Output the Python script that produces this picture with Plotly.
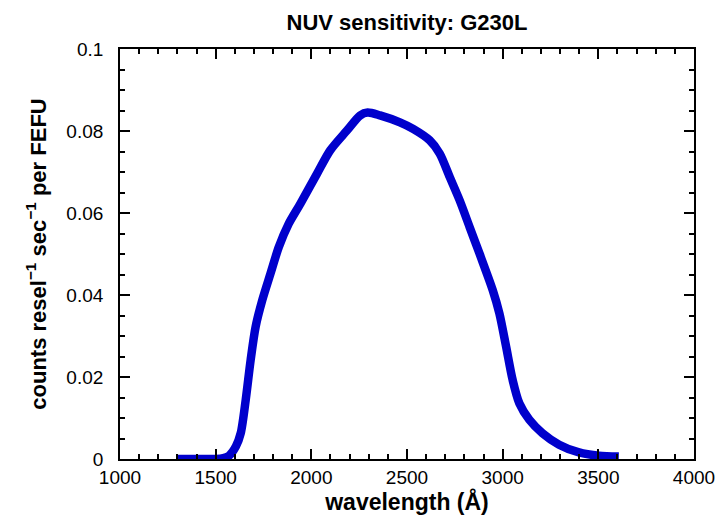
import plotly.graph_objects as go

wavelength = [1293, 1400, 1500, 1540, 1570, 1606, 1631, 1657, 1683, 1709, 1744, 1787,
              1830, 1882, 1943, 2030, 2099, 2186, 2255, 2294, 2359, 2463, 2532, 2619,
              2671, 2723, 2775, 2827, 2879, 2948, 2983, 3018, 3052, 3087, 3139, 3208,
              3295, 3399, 3503, 3607]
sensitivity = [0.0, 0.0, 0.0, 0.0002, 0.0008, 0.0031, 0.0063, 0.0144, 0.0242, 0.0323,
               0.0388, 0.0453, 0.0517, 0.0574, 0.0623, 0.0696, 0.0753, 0.0801, 0.0838,
               0.0845, 0.0838, 0.0821, 0.0805, 0.0777, 0.0745, 0.0688, 0.0631, 0.0566,
               0.0501, 0.0412, 0.0355, 0.0274, 0.0193, 0.0136, 0.0096, 0.0063, 0.0035,
               0.0016, 0.0008, 0.0006]

x_ticks = [1000, 1500, 2000, 2500, 3000, 3500, 4000]
y_ticks = [0, 0.02, 0.04, 0.06, 0.08, 0.1]
y_ticklabels = ["0", "0.02", "0.04", "0.06", "0.08", "0.1"]

FONT = "Liberation Sans, Arial, Helvetica, sans-serif"

fig = go.Figure()
fig.add_trace(go.Scatter(
    x=wavelength, y=sensitivity, mode="lines",
    line=dict(color="#0000CC", width=8.5, shape="spline", smoothing=0.8),
    hoverinfo="skip", showlegend=False,
))

axis_common = dict(
    showgrid=False, zeroline=False, showline=True, linecolor="black", linewidth=1.8,
    mirror="ticks", ticks="inside", ticklen=10, tickwidth=1.6, tickcolor="black",
    tickfont=dict(family=FONT, size=19, color="black"), automargin=False,
)

fig.update_xaxes(
    range=[1000, 4000], tickvals=x_ticks, ticktext=[str(v) for v in x_ticks],
    minor=dict(dtick=100, tick0=1000, ticks="inside", ticklen=5.5, tickwidth=1.6, tickcolor="black"),
    ticklabelstandoff=0,
    title=dict(text="<b>wavelength (Å)</b>", font=dict(family=FONT, size=23, color="black"), standoff=4),
    **axis_common,
)
fig.update_yaxes(
    range=[0, 0.1], tickvals=y_ticks, ticktext=y_ticklabels,
    minor=dict(dtick=0.005, tick0=0, ticks="inside", ticklen=5.5, tickwidth=1.6, tickcolor="black"),
    ticklabelstandoff=11,
    title=dict(text="<b>counts resel<sup>−1</sup> sec<sup>−1</sup> per FEFU</b>",
               font=dict(family=FONT, size=22, color="black"), standoff=14),
    **axis_common,
)

fig.update_layout(
    width=719, height=517,
    margin=dict(l=120, r=25, t=49, b=58),
    paper_bgcolor="white", plot_bgcolor="white",
    title=dict(text="<b>NUV sensitivity: G230L</b>", x=0.5, xanchor="center", xref="paper",
               y=1, yref="container", yanchor="top", pad=dict(t=15),
               font=dict(family=FONT, size=22, color="black")),
)

fig.write_html("out.html", config={"displayModeBar": False},
               post_script="document.body.style.margin='0';")
